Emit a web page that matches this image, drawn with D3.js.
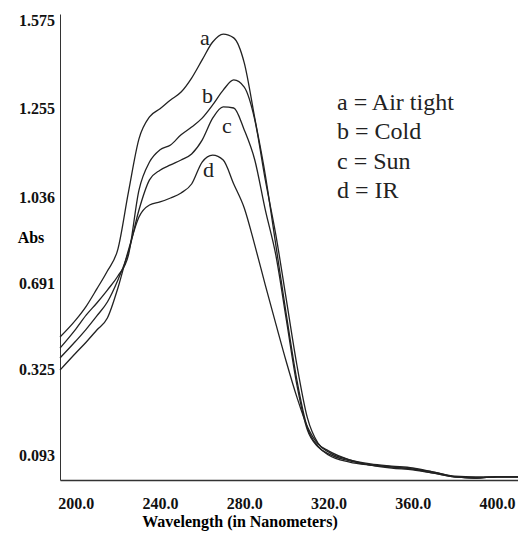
<!DOCTYPE html>
<html>
<head>
<meta charset="utf-8">
<script src="https://d3js.org/d3.v7.min.js"></script>
<style>
    body { margin: 0; background: #fff; }
    .axis text { font-family: "Liberation Serif", serif; font-weight: bold; font-size: 16px; fill: #111; }
    .axis path { stroke: #333; }
    .curve-label, .legend text { font-family: "Liberation Serif", serif; fill: #222; }
</style>
</head>
<body>
<div id="chart"></div>
<script>

// wavelength samples (nm)
let wavelengths = [192.5, 200, 205, 210, 215, 220, 225, 230, 235, 240, 245, 250, 255, 260, 265, 270, 275,
    280, 285, 290, 295, 300, 305, 310, 315, 320, 330, 340, 350, 360, 370, 380, 390, 400, 410];

// absorbance
let airTight = [0.461, 0.534, 0.593, 0.666, 0.739, 0.827, 1.048, 1.179, 1.233, 1.253, 1.284, 1.313, 1.364, 1.430,
    1.495, 1.524, 1.510, 1.419, 1.230, 1.090, 0.843, 0.555, 0.295, 0.166, 0.117, 0.093, 0.074, 0.066, 0.061,
    0.055, 0.047, 0.034, 0.031, 0.034, 0.034];
let cold = [0.414, 0.495, 0.555, 0.606, 0.661, 0.719, 0.803, 1.053, 1.122, 1.152, 1.164, 1.189, 1.208, 1.230,
    1.266, 1.320, 1.357, 1.331, 1.226, 1.078, 0.884, 0.619, 0.342, 0.193, 0.125, 0.101, 0.080, 0.069, 0.063,
    0.058, 0.047, 0.036, 0.034, 0.034, 0.034];
let sun = [0.372, 0.444, 0.495, 0.551, 0.610, 0.703, 0.815, 0.984, 1.078, 1.102, 1.115, 1.127, 1.142, 1.176,
    1.230, 1.259, 1.255, 1.201, 1.127, 0.984, 0.803, 0.534, 0.282, 0.160, 0.115, 0.096, 0.077, 0.066, 0.061,
    0.055, 0.044, 0.034, 0.031, 0.034, 0.034];
let ir = [0.322, 0.393, 0.440, 0.491, 0.542, 0.670, 0.823, 0.956, 1.004, 1.016, 1.032, 1.046, 1.068, 1.122,
    1.139, 1.127, 1.068, 0.992, 0.843, 0.682, 0.517, 0.355, 0.249, 0.169, 0.123, 0.104, 0.080, 0.066, 0.058,
    0.053, 0.044, 0.034, 0.031, 0.034, 0.034];

let seriesKeys = ["a", "b", "c", "d"];
let seriesNames = ["Air tight", "Cold", "Sun", "IR"];

let xTicks = [200, 240, 280, 320, 360, 400];
let yTicks = [0.093, 0.325, 0.691, 1.036, 1.255, 1.575];

let width = 518, height = 533;

let svg = d3.select("#chart").append("svg")
    .attr("width", width)
    .attr("height", height);

// Scales (the y axis of the instrument is not linear between its labels)
let x = d3.scaleLinear()
    .domain([192.5, 410])
    .range([60, 518]);

let y = d3.scaleLinear()
    .domain([0.0256, 0.093, 0.325, 0.691, 1.036, 1.255, 1.575, 1.597])
    .range([480, 455, 369, 283, 197, 108, 20, 14]);

// Axes
let xAxis = d3.axisBottom(x)
    .tickValues(xTicks)
    .tickSize(0)
    .tickPadding(18)
    .tickFormat(d3.format(".1f"));

let yAxis = d3.axisLeft(y)
    .tickValues(yTicks)
    .tickSize(0)
    .tickPadding(5)
    .tickFormat(d3.format(".3f"));

svg.append("g")
    .attr("class", "x-axis axis")
    .attr("transform", "translate(0,480)")
    .call(xAxis)
    .select(".domain").attr("stroke", "#666").attr("stroke-width", 1.5);

svg.append("g")
    .attr("class", "y-axis axis")
    .attr("transform", "translate(60,0)")
    .call(yAxis);

// Axis titles
svg.append("text")
    .attr("x", 31)
    .attr("y", 243)
    .attr("text-anchor", "middle")
    .style("font-family", "Liberation Serif")
    .style("font-weight", "bold")
    .style("font-size", "16px")
    .text("Abs");

svg.append("text")
    .attr("x", 240)
    .attr("y", 527)
    .attr("text-anchor", "middle")
    .style("font-family", "Liberation Serif")
    .style("font-weight", "bold")
    .style("font-size", "16px")
    .text("Wavelength (in Nanometers)");

// Curves
let allSeries = [airTight, cold, sun, ir];

let line = d3.line()
    .x(d => x(d.nm))
    .y(d => y(d.abs))
    .curve(d3.curveMonotoneX);

allSeries.forEach(function(values) {
    let data = wavelengths.map((nm, i) => ({ nm: nm, abs: values[i] }));
    svg.append("path")
        .datum(data)
        .attr("fill", "none")
        .attr("stroke", "#222")
        .attr("stroke-width", 1.3)
        .attr("d", line);
});

// Letters beside the peaks
let labelPos = [
    { nm: 259, abs: 1.484 },
    { nm: 259.9, abs: 1.273 },
    { nm: 269.4, abs: 1.193 },
    { nm: 260.4, abs: 1.085 }
];

svg.selectAll(".curve-label")
    .data(seriesKeys)
    .enter()
    .append("text")
    .attr("class", "curve-label")
    .attr("x", (d, i) => x(labelPos[i].nm))
    .attr("y", (d, i) => y(labelPos[i].abs))
    .style("font-size", "22px")
    .text(d => d);

// Legend
let legend = svg.append("g")
    .attr("class", "legend")
    .attr("transform", "translate(337,110)");

legend.selectAll("text")
    .data(seriesKeys)
    .enter()
    .append("text")
    .attr("x", 0)
    .attr("y", (d, i) => i * 29.3)
    .style("font-size", "24px")
    .text((d, i) => d + " = " + seriesNames[i]);

</script>
</body>
</html>
